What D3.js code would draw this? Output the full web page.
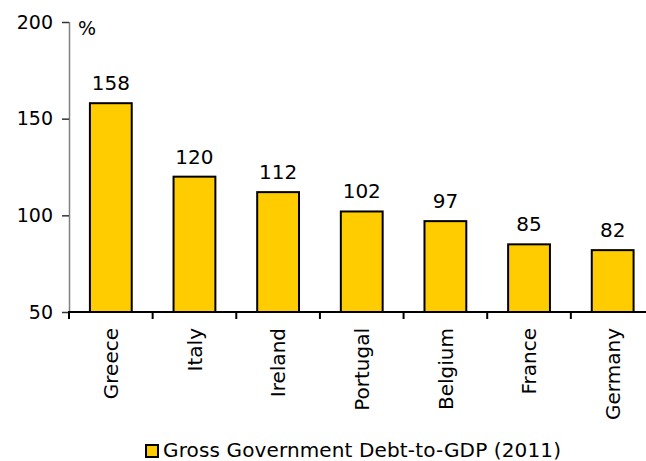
<!DOCTYPE html>
<html>
<head>
<meta charset="utf-8">
<script src="https://cdn.jsdelivr.net/npm/d3@7"></script>
<style>
  html, body { margin: 0; padding: 0; background: #fff; }
  svg { display: block; font-family: "DejaVu Sans", Verdana, sans-serif; }
</style>
</head>
<body>
<svg id="chart" width="646" height="461"></svg>
<script>
// Gross government debt as a share of GDP, 2011
const countries = ["Greece", "Italy", "Ireland", "Portugal", "Belgium", "France", "Germany"];
const debtToGdp = [158, 120, 112, 102, 97, 85, 82];
const yTicks = [50, 100, 150, 200];
const seriesName = "Gross Government Debt-to-GDP (2011)";
const unitLabel = "%";

const data = countries.map((c, i) => ({ country: c, value: debtToGdp[i] }));

const svg = d3.select("#chart");
const plot = { left: 69, right: 654.5, top: 22, bottom: 312 };
const barFill = "#FFCC00";

const x = d3.scaleBand()
  .domain(countries)
  .range([plot.left, plot.right])
  .paddingInner(0.5)
  .paddingOuter(0.25);

const y = d3.scaleLinear()
  .domain([50, 200])
  .range([plot.bottom, plot.top]);

// Y axis: thin grey spine, short ticks on the left
const yAxis = svg.append("g")
  .attr("transform", `translate(${plot.left},0)`)
  .call(d3.axisLeft(y).tickValues(yTicks).tickSize(7).tickPadding(9));
yAxis.select(".domain").attr("stroke", "#808080").attr("stroke-width", 1.5)
  .attr("d", `M0.5,${plot.top}V${plot.bottom}`);
yAxis.selectAll(".tick line").attr("stroke", "#333").attr("stroke-width", 1.5);
yAxis.selectAll(".tick text")
  .attr("fill", "#000")
  .style("font-size", "19px")
  .style("font-family", "DejaVu Sans, Verdana, sans-serif");

// unit label next to the top of the axis
svg.append("text")
  .attr("x", 78)
  .attr("y", 35)
  .style("font-size", "19px")
  .text(unitLabel);

// Bars
svg.append("g")
  .selectAll("rect")
  .data(data)
  .join("rect")
  .attr("x", d => x(d.country))
  .attr("y", d => y(d.value))
  .attr("width", x.bandwidth())
  .attr("height", d => y(50) - y(d.value))
  .attr("fill", barFill)
  .attr("stroke", "#000")
  .attr("stroke-width", 2);

// Value labels above the bars
svg.append("g")
  .selectAll("text")
  .data(data)
  .join("text")
  .attr("x", d => x(d.country) + x.bandwidth() / 2)
  .attr("y", d => y(d.value) - 13)
  .attr("text-anchor", "middle")
  .style("font-size", "20px")
  .text(d => d.value);

// X axis baseline with ticks at the category boundaries
const step = x.step();
const x0 = plot.left;
const xAxis = svg.append("g");
xAxis.append("line")
  .attr("x1", plot.left - 1)
  .attr("x2", plot.right)
  .attr("y1", plot.bottom)
  .attr("y2", plot.bottom)
  .attr("stroke", "#000")
  .attr("stroke-width", 2);
xAxis.selectAll("line.tick")
  .data(d3.range(countries.length + 1))
  .join("line")
  .attr("class", "tick")
  .attr("x1", i => x0 + i * step)
  .attr("x2", i => x0 + i * step)
  .attr("y1", plot.bottom)
  .attr("y2", plot.bottom + 7)
  .attr("stroke", "#000")
  .attr("stroke-width", 2);

// Rotated category labels
xAxis.selectAll("text")
  .data(countries)
  .join("text")
  .attr("transform", d => `translate(${x(d) + x.bandwidth() / 2},328) rotate(-90)`)
  .attr("text-anchor", "end")
  .attr("dy", "0.36em")
  .style("font-size", "20px")
  .text(d => d);

// Legend
const legend = svg.append("g");
legend.append("rect")
  .attr("x", 146)
  .attr("y", 445)
  .attr("width", 12)
  .attr("height", 12)
  .attr("fill", barFill)
  .attr("stroke", "#000")
  .attr("stroke-width", 2);
legend.append("text")
  .attr("x", 163)
  .attr("y", 457)
  .attr("textLength", 398)
  .attr("lengthAdjust", "spacing")
  .style("font-size", "20px")
  .text(seriesName);
</script>
</body>
</html>
